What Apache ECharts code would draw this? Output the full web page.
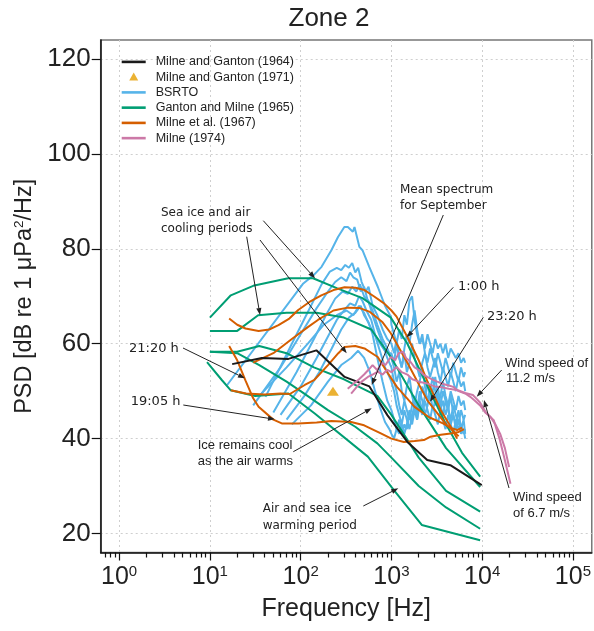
<!DOCTYPE html>
<html><head><meta charset="utf-8">
<script src="https://cdn.jsdelivr.net/npm/echarts@6/dist/echarts.min.js"></script>
<style>html,body{margin:0;padding:0;background:#fff}#c{width:594px;height:631px}</style>
</head><body><div id="c"></div><script>
// ---------- data (frequency Hz, PSD dB) ----------
const yTicks = [20, 40, 60, 80, 100, 120];
const xDecades = [1, 10, 100, 1000, 10000, 100000];

const milneGanton1964 = [[17.6,55.7],[37.4,57.0],[73.3,56.8],[149,58.6],[305,53.0],[572,51.0],[906,44.9],[1500,39.3],[2480,35.5],[4460,34.4],[9890,30.2]];
const milneGanton1971 = [[227,50]];

const bsrtoHiFreq = [1000,1070,1140,1220,1300,1390,1480,1580,1690,1800,1920,2050,2190,2340,2500,2670,2850,3040,3250,3470,3700,3950,4220,4500,4810,5130,5480,5850,6250,6500];
const bsrto1Lo = [[15.5,51.3],[107,72.7],[140,74.5],[170,76.2],[218,79.7],[258,82.5],[303,84.6],[331,84.6],[376,83.6],[392,84.6],[444,80.4],[480,79.7],[570,76.2],[707,72],[850,68],[985,65.7]];
const bsrto1Hi = [64,62,60,63,61,66,64,69,70,65,62,60,61,59,62,60,58,61,59,60,58,60,57,59,58,57,58,56,57,56];
const bsrto2Lo = [[41,48.8],[80,60],[130,68],[170,72.5],[210,75.2],[250,76],[280,75.5],[310,76.6],[340,76],[370,77],[400,75],[430,76],[470,73],[520,71],[560,72],[620,68],[700,66],[800,63],[900,61]];
const bsrto2Hi = [60,58,61,57,55,58,54,56,60,57,55,53,56,58,55,53,55,57,54,52,55,53,51,54,52,50,53,51,52,50];
const bsrto3Lo = [[30,47],[60,55],[100,62],[150,67.5],[200,71],[240,73],[280,74],[320,73.2],[350,75],[380,74],[420,73.5],[460,71],[500,72],[550,69],[620,67],[700,64],[800,61],[900,59]];
const bsrto3Hi = [57,55,52,54,50,48,51,53,49,47,50,52,55,51,48,50,53,50,47,49,52,49,47,50,48,46,49,47,48,46];
const bsrto4Lo = [[50,45.5],[90,54],[140,61],[190,66],[240,69.5],[290,71],[330,70.5],[370,72],[410,71],[450,72.5],[500,70],[560,69],[620,66],[700,63],[800,60],[900,57]];
const bsrto4Hi = [55,52,50,47,45,48,46,44,47,49,46,50,48,45,47,50,46,48,51,47,45,48,46,44,47,45,43,46,44,45];
const bsrto5Lo = [[60,45],[100,51],[150,57],[200,61.5],[250,65],[300,67],[350,68.5],[400,68],[440,70],[480,69],[530,67],[600,65],[680,61],[760,58],[850,55],[950,53]];
const bsrto5Hi = [52,50,47,45,43,46,44,42,45,47,44,48,46,49,52,48,50,53,49,47,50,48,46,49,45,43,46,42,44,41];
const bsrto6Lo = [[70,44],[110,49],[160,54],[220,59],[280,63],[340,65.5],[400,66.5],[460,68],[500,66],[560,64.5],[620,62],[700,57],[800,52],[900,48]];
const bsrto6Hi = [46,44,42,41,43,41,43,46,44,47,45,48,51,49,52,48,50,47,49,46,48,45,47,43,45,42,44,41,42,40];
const bsrto7Lo = [[35,49],[70,55],[120,60],[180,64],[250,66],[320,67],[380,66],[440,68],[500,66.5],[570,64],[650,62],[750,60],[850,58.5],[950,58]];
const bsrto7Hi = [58,56,60,57,55,59,62,60,64,67,63,60,62,58,56,59,57,55,58,56,54,57,55,53,56,54,52,55,53,54];
const bsrto8Lo = [[80,43],[130,47],[200,52],[280,55.5],[360,57],[430,58.5],[500,57],[580,54],[660,50],[750,46.5],[850,43.5],[950,42]];
const bsrto8Hi = [41,40,42,44,41,43,42,45,43,46,44,47,45,48,46,44,47,45,43,46,44,42,45,43,41,44,42,43,41,42];

const gantonMilne1 = [[10,65.5],[17,70.2],[30,72.2],[73,73.8],[137,73.8],[250,71.7],[480,69.6],[985,65.5],[1500,60],[2500,51],[4000,43],[6000,37],[9500,32]];
const gantonMilne2 = [[10,62.7],[20,62.7],[34,66],[70,66.5],[150,66.5],[300,65.5],[600,63],[1000,57],[2000,47],[4000,38],[9500,29.8]];
const gantonMilne3 = [[10,58.3],[20,58.3],[35,59.5],[70,58],[140,55],[300,52.5],[700,49],[1000,45],[2000,36],[4000,29],[9500,24.6]];
const gantonMilne4 = [[10,58.3],[20,58],[35,55.5],[70,52],[100,50],[200,46],[400,42.5],[700,39],[1000,36],[2000,30],[4000,25.5],[9500,21]];
const gantonMilne5 = [[9.3,56.1],[13.6,52.3],[16.9,50.2],[31.6,49],[73.4,49.5],[143,45.3],[550,36.2],[1070,29.1],[2160,21.8],[9500,18.6]];

const milne1967a = [[16.3,65.3],[20,64],[24.7,63.2],[34.4,62.7],[45,63],[57,63.9],[75,65.3],[94,67.1],[125,68.8],[169,70.2],[230,71.3],[305,71.9],[400,71.8],[505,71.3],[640,70],[830,68.5],[1000,67],[1140,65.7],[1500,61.4],[2000,56.5],[2500,52],[3500,46],[4500,42.5],[5300,40]];
const milne1967b = [[17,50.2],[25,49.5],[40,49.3],[60,49.5],[76,49.4],[111,51.3],[142,52.4],[200,55.5],[260,58],[305,59.3],[400,59.5],[505,59],[707,57.2],[900,54],[1150,50.9],[1800,46.7],[2600,44.5],[3700,43.2],[4600,42.2],[5300,41.8],[6000,42.3]];
const milne1967c = [[16.3,59.5],[20,56.5],[24.7,52.2],[30,48.5],[34.4,46.7],[50,44],[62,43.2],[94,43.2],[150,43.4],[218,43.7],[360,43.5],[500,42.8],[765,41.1],[1000,40],[1370,39.3],[1800,39.5],[2280,39.7],[2700,40.4],[3500,40.8],[4500,41.1],[5500,41.4],[6300,42]];
const milne1967d = [[30,56],[50,58],[80,61],[120,63.5],[155,65],[230,67],[330,67.6],[450,67.5],[580,66.7],[800,64.5],[985,62.2],[1500,56],[2500,48],[4000,43],[5500,40.5]];

const milne1974a = [[330,50.5],[380,51.5],[440,52.5],[500,53.5],[560,54.5],[620,55.5],[700,54.4],[780,56],[860,55.5],[985,57.2],[1100,56.5],[1200,58],[1340,58.3],[1450,57],[1620,56.2],[1800,55],[2000,54.5],[2250,53.5],[2490,53],[2800,52.5],[3200,52],[3700,51.5],[4300,51.2],[4800,50.9],[5500,50],[6500,49.5],[7400,48.8],[8200,48.1],[9500,47],[10800,45.5],[12300,44.6],[14000,43],[15800,41],[17800,38],[19800,34]];
const milne1974b = [[360,49.5],[420,51],[470,52],[550,53],[620,53.5],[707,54.1],[800,53.5],[900,54.5],[1000,54],[1140,55.1],[1300,54],[1500,53.5],[1700,52.5],[2000,52],[2490,51.6],[3000,51],[3600,50.8],[4300,50.5],[5400,50.2],[6500,49.6],[7900,49.2],[9400,47.7],[11000,45.5],[13400,43.9],[15500,40],[17500,36],[20500,30.5]];

// ---------- build ----------
const FONT = '"Liberation Sans", Arial, Helvetica, sans-serif';
const DV = '"DejaVu Sans", Verdana, sans-serif';
const C = {black:'#1a1a1a', tri:'#E69F00', blue:'#56B4E9', green:'#009E73', orange:'#D55E00', pink:'#CC79A7'};

function lineSeries(name, data, color) {
  return {type:'line', name, data, symbol:'none', showSymbol:false, silent:true, animation:false,
    lineStyle:{color, width:2}, itemStyle:{color}, z:2};
}
function joinHi(lo, hi) { return lo.concat(bsrtoHiFreq.map((f,i)=>[f,hi[i]])); }

const series = [];
[[bsrto1Lo,bsrto1Hi],[bsrto2Lo,bsrto2Hi],[bsrto3Lo,bsrto3Hi],[bsrto4Lo,bsrto4Hi],[bsrto5Lo,bsrto5Hi],[bsrto6Lo,bsrto6Hi],[bsrto7Lo,bsrto7Hi],[bsrto8Lo,bsrto8Hi]]
  .forEach(p=>series.push(lineSeries('BSRTO', joinHi(p[0],p[1]), C.blue)));
[gantonMilne1,gantonMilne2,gantonMilne3,gantonMilne4,gantonMilne5].forEach(d=>series.push(lineSeries('Ganton and Milne (1965)', d, C.green)));
[milne1967a,milne1967b,milne1967c,milne1967d].forEach(d=>series.push(lineSeries('Milne et al. (1967)', d, C.orange)));
series.push(lineSeries('Milne and Ganton (1964)', milneGanton1964, C.black));
[milne1974a,milne1974b].forEach(d=>series.push(lineSeries('Milne (1974)', d, C.pink)));
series.push({type:'scatter', name:'Milne and Ganton (1971)', data:milneGanton1971, symbol:'triangle', symbolSize:[12,9],
  itemStyle:{color:C.tri}, silent:true, animation:false, z:5});

// minor ticks on log axis
const minorTicks = [];
[0.1,1,10,100,1000,10000].forEach(d=>{ for(let k=2;k<=9;k++){ const v=d*k; if(v>0.63 && v<1.5e5) minorTicks.push(v); } });

// annotations
const texts = [
  ['Sea ice and air',161,213,DV,12],['cooling periods',161,229,DV,12],
  ['Mean spectrum',400,190,DV,12],['for September',400,206,DV,12],
  ['1:00 h',458,287,DV,13],['23:20 h',487,317,DV,13],
  ['Wind speed of',505,363,FONT,13],['11.2 m/s',506,378,FONT,13],
  ['Wind speed',513,497,FONT,13],['of 6.7 m/s',513,513,FONT,13],
  ['21:20 h',129,349,DV,13],['19:05 h',130.7,401.7,DV,13],
  ['Ice remains cool',197.7,445.7,FONT,13],['as the air warms',197.7,461.7,FONT,13],
  ['Air and sea ice',262.7,509.3,DV,12],['warming period',262.7,525.7,DV,12]
];
const arrows = [
  [263.3,220.7,315,278.3],[246.7,236.7,260,315],[260,240,346.7,353.3],
  [443.3,215,371.7,385],[453.3,287.3,406.7,337.3],[483.3,317.3,430,401.7],
  [501.7,370,476.7,396.7],[509,488,484,400],[183,348,245,378.3],
  [183.3,405,275,419.3],[293.3,451.7,371.7,408.3],[363.3,506,398.3,488.3]
];
const graphics = [];
texts.forEach(t=>graphics.push({type:'text', x:t[1], y:t[2], silent:true, z:100,
  style:{text:t[0], fill:'#222', font:t[4]+'px '+t[3], textVerticalAlign:'middle', textAlign:'left'}}));
arrows.forEach(a=>{
  const [x1,y1,x2,y2]=a, ang=Math.atan2(y2-y1,x2-x1), L=7, W=2.6;
  const bx=x2-L*Math.cos(ang), by=y2-L*Math.sin(ang), px=-Math.sin(ang)*W, py=Math.cos(ang)*W;
  graphics.push({type:'line', silent:true, z:100, shape:{x1,y1,x2:bx,y2:by}, style:{stroke:'#222', lineWidth:1}});
  graphics.push({type:'polygon', silent:true, z:100, shape:{points:[[x2,y2],[bx+px,by+py],[bx-px,by-py]]}, style:{fill:'#222'}});
});
graphics.push({type:'text', x:329, y:19, silent:true, style:{text:'Zone 2', fill:'#222', font:'26px '+FONT, textAlign:'center', textVerticalAlign:'middle'}});

const lineIcon = 'path://M0,0M0,4.8L24,4.8L24,7.4L0,7.4ZM24,12';
const chart = echarts.init(document.getElementById('c'), null, {renderer:'canvas'});
chart.setOption({
  animation:false,
  backgroundColor:'#fff',
  grid:{left:100.7, right:-2, top:40, bottom:78.5, show:true, borderColor:'#777', borderWidth:1.5, containLabel:false},
  legend:{orient:'vertical', left:116.7, top:50.3, itemWidth:24, itemHeight:12, itemGap:2.25,
    textStyle:{fontFamily:FONT, fontSize:12.5, color:'#222', padding:[0,0,0,5]},
    data:[
      {name:'Milne and Ganton (1964)', icon:lineIcon, itemStyle:{color:C.black, borderWidth:0}},
      {name:'Milne and Ganton (1971)', icon:'path://M0,0M12,1.5L16.5,9.5L7.5,9.5ZM24,12', itemStyle:{color:C.tri, borderWidth:0}},
      {name:'BSRTO', icon:lineIcon, itemStyle:{color:C.blue, borderWidth:0}},
      {name:'Ganton and Milne (1965)', icon:lineIcon, itemStyle:{color:C.green, borderWidth:0}},
      {name:'Milne et al. (1967)', icon:lineIcon, itemStyle:{color:C.orange, borderWidth:0}},
      {name:'Milne (1974)', icon:lineIcon, itemStyle:{color:C.pink, borderWidth:0}}
    ]},
  xAxis:[{
    type:'log', logBase:10, min:0.6265, max:161300,
    name:'Frequency [Hz]', nameLocation:'middle', nameGap:44,
    nameTextStyle:{fontFamily:FONT, fontSize:25, color:'#222'},
    axisLine:{show:true, onZero:false, lineStyle:{color:'#111', width:1.5}},
    axisTick:{show:true, length:8, customValues:xDecades, lineStyle:{color:'#111', width:1.2}},
    axisLabel:{customValues:xDecades, margin:12, color:'#222',
      formatter:v=>'{b|10}{s|'+Math.round(Math.log10(v))+'}',
      rich:{b:{fontFamily:FONT, fontSize:25, color:'#222'}, s:{fontFamily:FONT, fontSize:15, color:'#222', verticalAlign:'top'}}},
    splitLine:{show:true, lineStyle:{color:'#cfcfcf', type:[2,3], width:1}},
    minorTick:{show:false}
  },{
    type:'log', logBase:10, min:0.6265, max:161300, position:'bottom',
    axisLine:{show:false}, axisLabel:{show:false}, splitLine:{show:false},
    axisTick:{show:true, length:5, customValues:minorTicks, lineStyle:{color:'#111', width:1.2}}
  }],
  yAxis:{
    type:'value', min:16, max:124,
    name:'PSD [dB re 1 μPa{sup|2}/Hz]', nameLocation:'middle', nameGap:54, nameRotate:90,
    nameTextStyle:{fontFamily:FONT, fontSize:23.5, color:'#222', rich:{sup:{fontFamily:FONT, fontSize:13.5, color:'#222', verticalAlign:'top'}}},
    axisLine:{show:true, onZero:false, lineStyle:{color:'#111', width:1.5}},
    axisTick:{show:true, length:9, customValues:yTicks, lineStyle:{color:'#111', width:1.2}},
    axisLabel:{customValues:yTicks, margin:10, color:'#222', fontFamily:FONT, fontSize:26},
    splitLine:{show:true, lineStyle:{color:'#cfcfcf', type:[2,3], width:1}}
  },
  series,
  graphic:graphics
});
</script></body></html>
